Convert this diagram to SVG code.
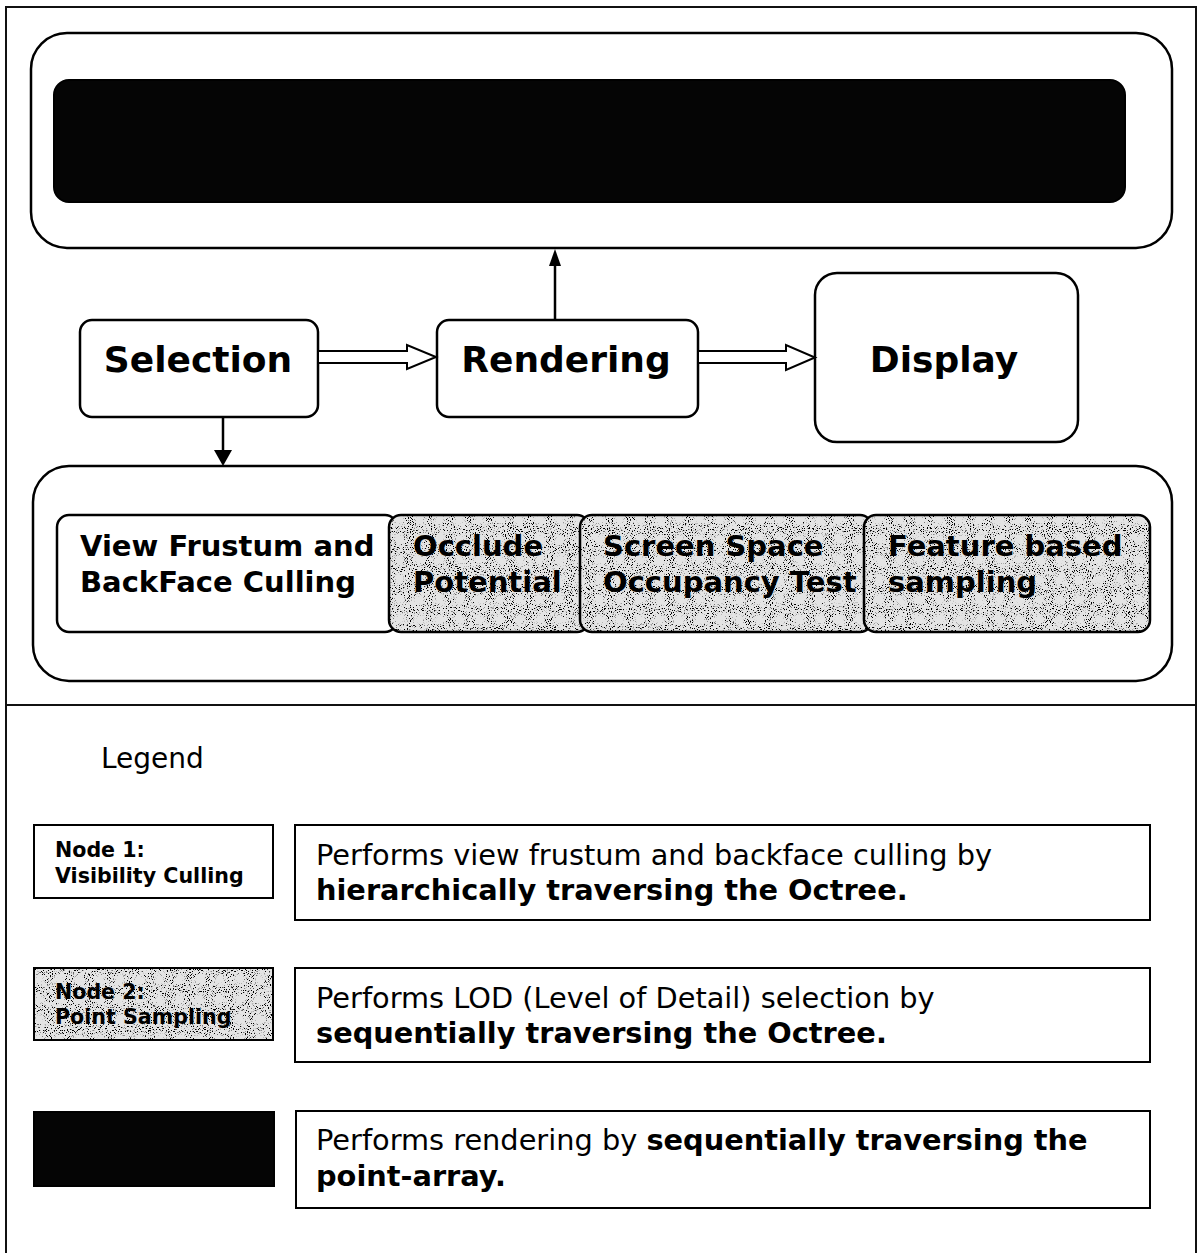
<svg xmlns="http://www.w3.org/2000/svg" width="1200" height="1253" viewBox="0 0 1200 1253">
  <style>
    .frame { fill: none; stroke: #111; stroke-width: 2; }
    .box { fill: #fff; stroke: #000; stroke-width: 2.5; }
    .dark { fill: #050505; stroke: #000; stroke-width: 2; }
    .plain { fill: #fff; stroke: #000; stroke-width: 2; }
    .tone { fill: #e4e4e4; }
    .edge { fill: none; stroke: #000; stroke-width: 2.5; }
    .big { font-family: "DejaVu Sans", Verdana, sans-serif; font-weight: bold; font-size: 36px; fill: #000; }
    .step { font-family: "DejaVu Sans", Verdana, sans-serif; font-weight: bold; font-size: 29px; fill: #000; }
    .tag { font-family: "DejaVu Sans", Verdana, sans-serif; font-weight: bold; font-size: 20.6px; fill: #000; }
    .desc { font-family: "DejaVu Sans", Verdana, sans-serif; font-size: 28.8px; fill: #000; }
    .desc .b { font-weight: bold; }
    .title { font-family: "DejaVu Sans", Verdana, sans-serif; font-size: 28px; fill: #000; }
    .hollow { fill: #fff; stroke: #000; stroke-width: 2; stroke-linejoin: miter; }
    .wire { stroke: #000; stroke-width: 2.5; fill: none; }
  </style>
  <defs>
    <!-- speckled grain for the sampling stages -->
    <filter id="grain" x="0" y="0" width="100%" height="100%">
      <feTurbulence type="fractalNoise" baseFrequency="0.95" numOctaves="1" seed="7" result="noise"/>
      <feColorMatrix in="noise" type="matrix" values="0 0 0 0 0  0 0 0 0 0  0 0 0 0 0  12 0 0 0 -6.9" result="dots"/>
      <feComposite in="dots" in2="SourceGraphic" operator="atop"/>
    </filter>
  </defs>

  <!-- page frame and divider -->
  <g id="frame">
    <rect class="frame" x="6" y="7" width="1190" height="1252"/>
    <line class="frame" x1="6" y1="705" x2="1196" y2="705"/>
  </g>

  <!-- top stage: rendering output -->
  <g id="output-stage">
    <rect class="box" x="31" y="33" width="1141" height="215" rx="36" ry="36"/>
    <rect class="dark" x="54" y="80" width="1071" height="122" rx="15" ry="15"/>
  </g>

  <g id="selection">
    <rect class="box" x="80" y="320" width="238" height="97" rx="12" ry="12"/>
    <text class="big" x="198" y="372" text-anchor="middle">Selection</text>
  </g>

  <g id="rendering">
    <rect class="box" x="437" y="320" width="261" height="97" rx="12" ry="12"/>
    <text class="big" x="566" y="372" text-anchor="middle">Rendering</text>
  </g>

  <g id="display">
    <rect class="box" x="815" y="273" width="263" height="169" rx="22" ry="22"/>
    <text class="big" x="944" y="372" text-anchor="middle">Display</text>
  </g>

  <!-- bottom stage: selection pipeline -->
  <g id="selection-stage">
    <rect class="box" x="33" y="466" width="1139" height="215" rx="36" ry="36"/>
  </g>

  <g id="view-frustum">
    <rect class="box" x="57" y="515" width="340" height="117" rx="12" ry="12"/>
    <text class="step" x="80" y="556">View Frustum and</text>
    <text class="step" x="80" y="592">BackFace Culling</text>
  </g>

  <g id="occlude">
    <rect class="tone" x="389" y="515" width="200" height="117" rx="12" ry="12"/>
    <rect class="tone" x="389" y="515" width="200" height="117" rx="12" ry="12" filter="url(#grain)"/>
    <rect class="edge" x="389" y="515" width="200" height="117" rx="12" ry="12"/>
    <text class="step" x="413" y="556">Occlude</text>
    <text class="step" x="413" y="592">Potential</text>
  </g>

  <g id="screen-space">
    <rect class="tone" x="580" y="515" width="292" height="117" rx="12" ry="12"/>
    <rect class="tone" x="580" y="515" width="292" height="117" rx="12" ry="12" filter="url(#grain)"/>
    <rect class="edge" x="580" y="515" width="292" height="117" rx="12" ry="12"/>
    <text class="step" x="603" y="556">Screen Space</text>
    <text class="step" x="603" y="592">Occupancy Test</text>
  </g>

  <g id="feature-sampling">
    <rect class="tone" x="864" y="515" width="286" height="117" rx="12" ry="12"/>
    <rect class="tone" x="864" y="515" width="286" height="117" rx="12" ry="12" filter="url(#grain)"/>
    <rect class="edge" x="864" y="515" width="286" height="117" rx="12" ry="12"/>
    <text class="step" x="888" y="556">Feature based</text>
    <text class="step" x="888" y="592">sampling</text>
  </g>

  <!-- connectors -->
  <g id="connectors">
    <polygon class="hollow" points="318,351 407,351 407,345 436,357 407,369 407,363 318,363"/>
    <polygon class="hollow" points="698,351 786,351 786,345 815,357.5 786,370 786,363 698,363"/>
    <line class="wire" x1="555" y1="320" x2="555" y2="264"/>
    <polygon points="549,266 561,266 555,249" fill="#000"/>
    <line class="wire" x1="223" y1="417" x2="223" y2="452"/>
    <polygon points="214,450 232,450 223,466" fill="#000"/>
  </g>

  <!-- legend -->
  <g id="legend">
    <text class="title" x="101" y="768">Legend</text>
  </g>

  <g id="legend-node1">
    <rect class="plain" x="34" y="825" width="239" height="73"/>
    <text class="tag" x="55" y="857">Node 1:</text>
    <text class="tag" x="55" y="883">Visibility Culling</text>
  </g>
  <g id="legend-desc1">
    <rect class="plain" x="295" y="825" width="855" height="95"/>
    <text class="desc" x="316" y="865">Performs view frustum and backface culling by</text>
    <text class="desc" x="316" y="900"><tspan class="b">hierarchically traversing the Octree.</tspan></text>
  </g>

  <g id="legend-node2">
    <rect class="tone" x="34" y="968" width="239" height="72"/>
    <rect class="tone" x="34" y="968" width="239" height="72" filter="url(#grain)"/>
    <rect x="34" y="968" width="239" height="72" fill="none" stroke="#000" stroke-width="2"/>
    <text class="tag" x="55" y="999">Node 2:</text>
    <text class="tag" x="55" y="1024">Point Sampling</text>
  </g>
  <g id="legend-desc2">
    <rect class="plain" x="295" y="968" width="855" height="94"/>
    <text class="desc" x="316" y="1008">Performs LOD (Level of Detail) selection by</text>
    <text class="desc" x="316" y="1043"><tspan class="b">sequentially traversing the Octree.</tspan></text>
  </g>

  <g id="legend-node3">
    <rect class="dark" x="34" y="1112" width="240" height="74"/>
  </g>
  <g id="legend-desc3">
    <rect class="plain" x="296" y="1111" width="854" height="97"/>
    <text class="desc" x="316" y="1150">Performs rendering by <tspan class="b">sequentially traversing the</tspan></text>
    <text class="desc" x="316" y="1186"><tspan class="b">point-array.</tspan></text>
  </g>
</svg>
